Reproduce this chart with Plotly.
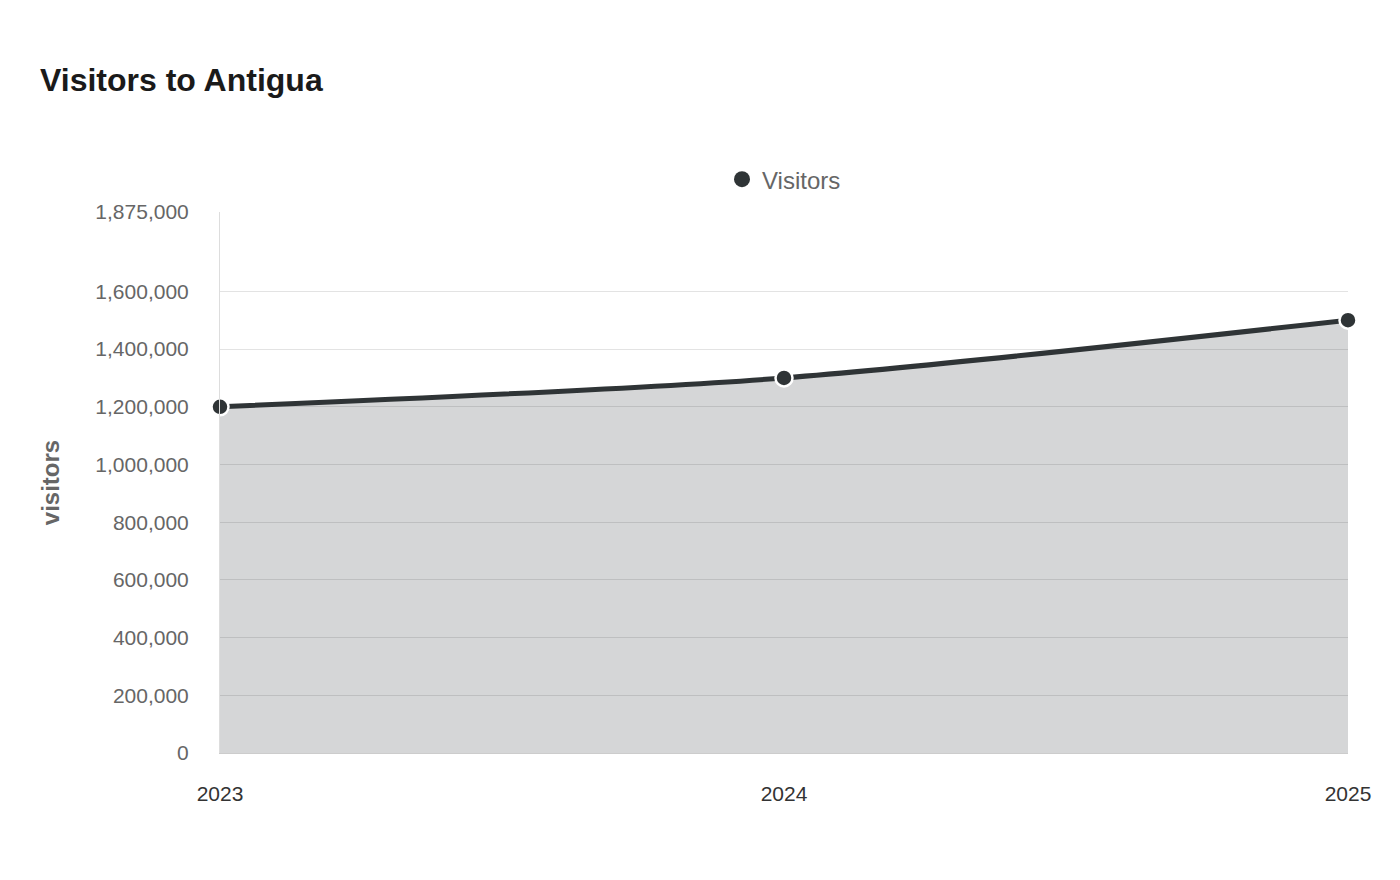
import plotly.graph_objects as go

years = ["2023", "2024", "2025"]
visitors = [1200000, 1300000, 1500000]
ytick_vals = [0, 200000, 400000, 600000, 800000, 1000000, 1200000, 1400000, 1600000, 1875000]
ytick_text = ["0", "200,000", "400,000", "600,000", "800,000", "1,000,000", "1,200,000", "1,400,000", "1,600,000", "1,875,000"]

fig = go.Figure()
fig.add_trace(go.Scatter(
    x=years, y=visitors, name="Visitors", mode="lines+markers", showlegend=False,
    line=dict(color="#2f3436", width=5, shape="spline", smoothing=0.8),
    marker=dict(size=17, color="#2f3436", line=dict(color="white", width=2.5)),
    fill="tozeroy", fillcolor="rgba(47,52,54,0.2)", cliponaxis=False,
))
fig.add_trace(go.Scatter(
    x=[None], y=[None], name="Visitors", mode="markers",
    marker=dict(size=30, color="#2f3436"),
))
for x, v in zip(years, visitors):
    fig.add_annotation(x=x, y=v, text=f"<b>{v}</b>", showarrow=False, yshift=39,
                       font=dict(family="Liberation Sans", size=20, color="#1a1a1a"))
fig.update_layout(
    width=1400, height=880, plot_bgcolor="white", paper_bgcolor="white",
    font=dict(family="Liberation Sans", color="#666"),
    title=dict(text="<b>Visitors to Antigua</b>", x=32/1400, xanchor="left", y=1-72/880, yanchor="middle",
               font=dict(size=32, color="#1a1a1a")),
    margin=dict(l=212, r=60, t=204, b=135),
    showlegend=True,
    legend=dict(orientation="h", x=0.5, xanchor="center", y=1.06, yanchor="middle",
                font=dict(size=24, color="#666")),
    xaxis=dict(type="category", range=[0, 2], showgrid=False, showline=True, linecolor="#ccc",
               tickfont=dict(size=21, color="#333"), ticks="", ticklabelstandoff=22),
    yaxis=dict(range=[0, 1875000], tickvals=ytick_vals, ticktext=ytick_text, gridcolor="#e3e3e3",
               showline=True, linecolor="#ddd", zeroline=False, tickfont=dict(size=21, color="#666"),
               title=dict(text="<b>visitors</b>", font=dict(size=24, color="#666"), standoff=28),
               ticklabelstandoff=26),
)
fig.write_html("out.html")
